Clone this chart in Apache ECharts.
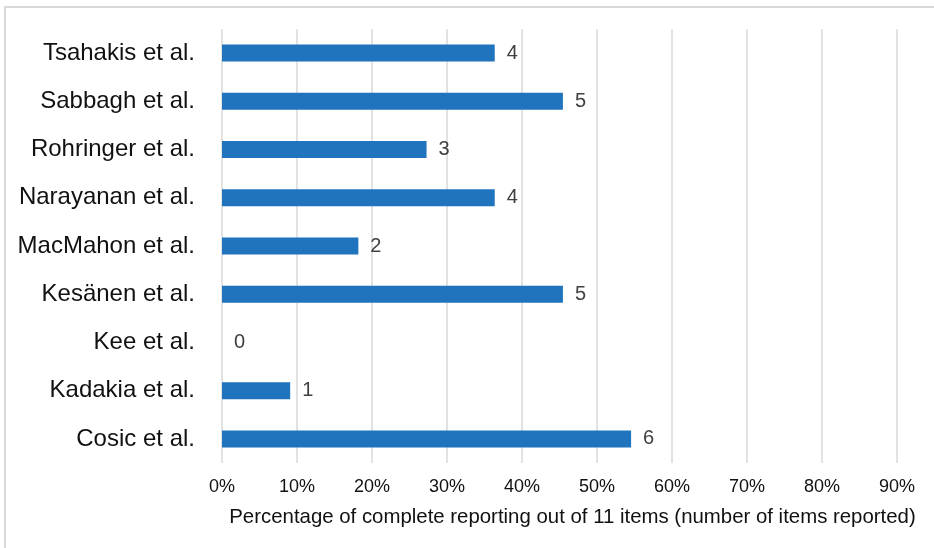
<!DOCTYPE html>
<html>
<head>
<meta charset="utf-8">
<script src="https://cdn.jsdelivr.net/npm/echarts@6/dist/echarts.min.js"></script>
<style>
  html, body { margin: 0; padding: 0; background: #fff; }
  #chart { width: 934px; height: 548px; }
</style>
</head>
<body>
<div id="chart"></div>
<script>
// Studies, listed bottom to top as the category axis draws them
const studies = ['Cosic et al.', 'Kadakia et al.', 'Kee et al.', 'Kesänen et al.', 'MacMahon et al.',
                 'Narayanan et al.', 'Rohringer et al.', 'Sabbagh et al.', 'Tsahakis et al.'];
// Number of items reported per study
const itemsReported = [6, 1, 0, 5, 2, 4, 3, 5, 4];
const totalItems = 11;
const tickValues = [0, 10, 20, 30, 40, 50, 60, 70, 80, 90];

const percentComplete = itemsReported.map(n => n / totalItems * 100);

const font = "'Liberation Sans', Arial, Helvetica, sans-serif";
const chart = echarts.init(document.getElementById('chart'), null, { renderer: 'canvas' });

chart.setOption({
  animation: false,
  backgroundColor: '#fff',
  grid: { left: 222, right: 37, top: 29, bottom: 85, containLabel: false },
  graphic: [{
    type: 'rect',
    shape: { x: 5, y: 7, width: 960, height: 600 },
    style: { fill: 'none', stroke: '#d9d9d9', lineWidth: 2 },
    silent: true
  }],
  xAxis: {
    type: 'value',
    min: tickValues[0],
    max: tickValues[tickValues.length - 1],
    interval: 10,
    axisLine: { show: false },
    axisTick: { show: false },
    splitLine: { show: true, lineStyle: { color: '#d9d9d9', width: 1.5 } },
    axisLabel: { formatter: '{value}%', color: '#111', fontSize: 18, fontFamily: font, margin: 15 },
    name: 'Percentage of complete reporting out of 11 items (number of items reported)',
    nameLocation: 'middle',
    nameGap: 44,
    nameTextStyle: { color: '#111', fontSize: 20.4, fontFamily: font, padding: [0, 0, 0, 26] },
  },
  yAxis: {
    type: 'category',
    data: studies,
    axisLine: { show: false },
    axisTick: { show: false },
    axisLabel: { color: '#111', fontSize: 24, fontFamily: font, margin: 27 }
  },
  series: [{
    type: 'bar',
    data: percentComplete,
    barWidth: 17,
    itemStyle: { color: '#1f74bd' },
    label: {
      show: true,
      position: 'right',
      distance: 12,
      color: '#404040',
      fontSize: 20,
      fontFamily: font,
      formatter: p => String(itemsReported[p.dataIndex])
    }
  }]
});
</script>
</body>
</html>
